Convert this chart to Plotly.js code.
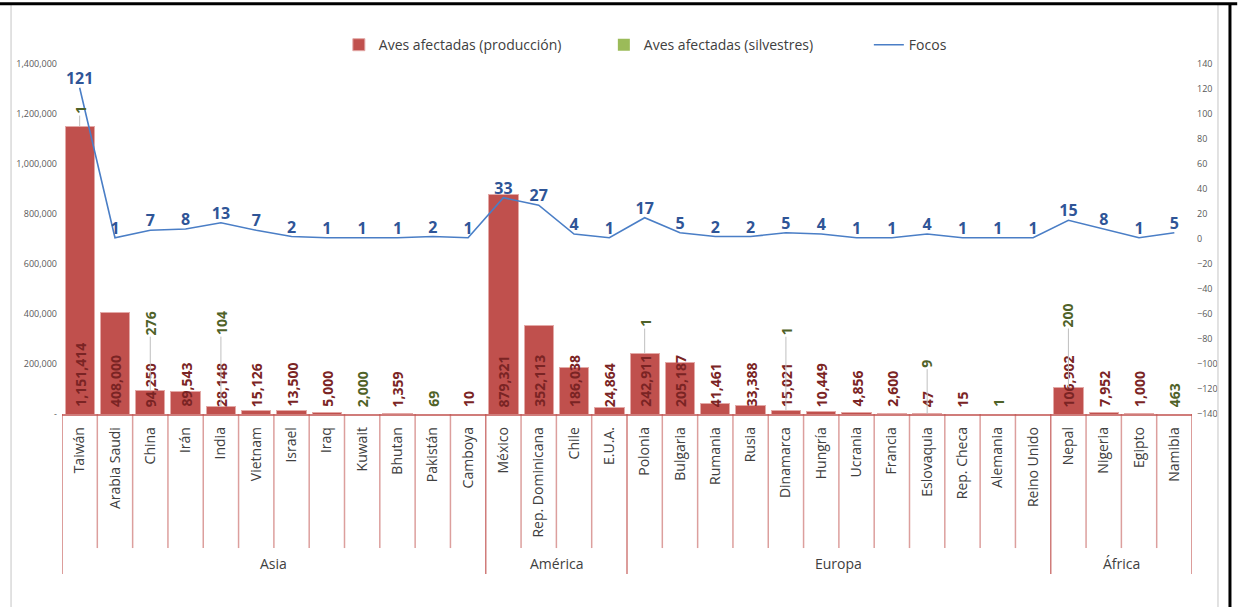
<!DOCTYPE html>
<html>
<head>
<meta charset="utf-8">
<script src="https://cdn.plot.ly/plotly-3.0.1.min.js"></script>
<style>html,body{margin:0;padding:0;background:#fff;}#chart{width:1238px;height:607px;}</style>
</head>
<body>
<div id="chart"></div>
<script>
// ---- data ----
const categories = ['Taiwán','Arabia Saudi','China','Irán','India','Vietnam','Israel','Iraq','Kuwait','Bhutan','Pakistán','Camboya',
  'México','Rep. Dominicana','Chile','E.U.A.',
  'Polonia','Bulgaria','Rumania','Rusia','Dinamarca','Hungría','Ucrania','Francia','Eslovaquia','Rep. Checa','Alemania','Reino Unido',
  'Nepal','Nigeria','Egipto','Namibia'];
const groups = ['Asia','América','Europa','África'];
const groupSizes = [12, 4, 12, 4];
const produccion = [1151414, 408000, 94250, 89543, 28148, 15126, 13500, 5000, 0, 1359, 0, 10,
  879321, 352113, 186038, 24864,
  242911, 205187, 41461, 33388, 15021, 10449, 4856, 2600, 47, 15, 0, 0,
  106902, 7952, 1000, 0];
const silvestres = [1, 0, 276, 0, 104, 0, 0, 0, 2000, 0, 69, 0,
  0, 0, 0, 0,
  1, 0, 0, 0, 1, 0, 0, 0, 9, 0, 1, 0,
  200, 0, 0, 463];
const focos = [121, 1, 7, 8, 13, 7, 2, 1, 1, 1, 2, 1,
  33, 27, 4, 1,
  17, 5, 2, 2, 5, 4, 1, 1, 4, 1, 1, 1,
  15, 8, 1, 5];
const leftTicks = [0, 200000, 400000, 600000, 800000, 1000000, 1200000, 1400000];
const rightTicks = [-140,-120,-100,-80,-60,-40,-20,0,20,40,60,80,100,120,140];

// ---- styles ----
const FONT = 'Open Sans, Lato, sans-serif';
const RED = '#C0504D', GREEN = '#9BBB59', BLUE = '#4A7EC6';
const RED_TXT = '#7A2424', GREEN_TXT = '#4F6228', BLUE_TXT = '#2F5597';
const fmt = v => v.toLocaleString('en-US');

const traces = [
  {type:'bar', name:'Aves afectadas (producción)', x:categories, y:produccion,
   marker:{color:RED, line:{color:'#E3A9A7', width:1}}, hoverinfo:'skip'},
  {type:'bar', name:'Aves afectadas (silvestres)', x:categories, y:silvestres,
   marker:{color:GREEN, line:{width:0}}, hoverinfo:'skip'},
  {type:'scatter', mode:'lines+text', name:'Focos', x:categories, y:focos, yaxis:'y2',
   line:{color:BLUE, width:1.6}, text:focos.map(String), textposition:'top center',
   textfont:{family:FONT, size:16, color:BLUE_TXT, weight:'bold'}, cliponaxis:false, hoverinfo:'skip'}
];

// ---- labels ----
const annotations = [];
const pxPerUnit = 350 / 1400000;
const LBL = 14;
const textLen = s => s.length * LBL * 0.58;
categories.forEach((c, i) => {
  const r = produccion[i], g = silvestres[i];
  if (r > 0) {
    annotations.push({x:c, y:0, xref:'x', yref:'y', text:fmt(r), textangle:-90, showarrow:false,
      yanchor:'bottom', yshift:5, font:{family:FONT, size:LBL, color:RED_TXT, weight:'bold'}});
  }
  if (g > 0) {
    if (r > 0) {
      const barTop = (r + g) * pxPerUnit;
      const lblTop = 6 + textLen(fmt(r));
      const anchor = Math.max(barTop, lblTop);
      const gap = barTop >= lblTop ? 12 : 24;
      const center = anchor + gap + textLen(fmt(g)) / 2;
      annotations.push({x:c, y:r + g, xref:'x', yref:'y', text:fmt(g), textangle:-90,
        showarrow:true, arrowhead:0, arrowwidth:1, arrowcolor:'#BFBFBF', ax:0, ay:-(center - barTop),
        standoff:0, font:{family:FONT, size:LBL, color:GREEN_TXT, weight:'bold'}});
    } else {
      annotations.push({x:c, y:0, xref:'x', yref:'y', text:fmt(g), textangle:-90, showarrow:false,
        yanchor:'bottom', yshift:5, font:{family:FONT, size:LBL, color:GREEN_TXT, weight:'bold'}});
    }
  }
});

// group labels and dividers
const shapes = [];
let start = 0;
const divColor = 'rgba(192,80,77,0.55)';
groups.forEach((g, k) => {
  const end = start + groupSizes[k];
  annotations.push({x:(start + end - 1) / 2, y:-0.426, xref:'x', yref:'paper', text:g, showarrow:false,
    yanchor:'middle', font:{family:FONT, size:14, color:'#404040'}});
  shapes.push({type:'line', xref:'x', yref:'paper', x0:start - 0.5, x1:start - 0.5, y0:0, y1:-0.457,
    line:{color:'rgba(192,80,77,0.75)', width:1.5}});
  for (let j = start + 1; j < end; j++) {
    shapes.push({type:'line', xref:'x', yref:'paper', x0:j - 0.5, x1:j - 0.5, y0:0, y1:-0.383,
      line:{color:divColor, width:1.5}});
  }
  start = end;
});
shapes.push({type:'line', xref:'x', yref:'paper', x0:start - 0.5, x1:start - 0.5, y0:0, y1:-0.457,
  line:{color:'rgba(192,80,77,0.75)', width:1.5}});

// chart frame
shapes.push({type:'line', xref:'paper', yref:'paper', x0:-0.0451, x1:-0.0451, y0:1.17, y1:-0.56, line:{color:'#CFCFCF', width:1.2}});
shapes.push({type:'line', xref:'paper', yref:'paper', x0:1.023, x1:1.023, y0:1.17, y1:-0.56, line:{color:'#CFCFCF', width:1.2}});
shapes.push({type:'line', xref:'paper', yref:'paper', x0:-0.06, x1:1.04, y0:1.172, y1:1.172, line:{color:'#000', width:3}});
shapes.push({type:'line', xref:'paper', yref:'paper', x0:1.0336, x1:1.0336, y0:1.172, y1:-0.56, line:{color:'#000', width:3}});

const layout = {
  width:1238, height:607,
  margin:{l:62, r:46, t:64, b:193},
  paper_bgcolor:'#fff', plot_bgcolor:'#fff',
  font:{family:FONT, color:'#404040'},
  barmode:'stack', bargap:0.17,
  showlegend:true,
  legend:{orientation:'h', x:0.245, xanchor:'left', y:1.054, yanchor:'middle',
    font:{family:FONT, size:14, color:'#404040'}, entrywidth:220, itemwidth:30, traceorder:'normal'},
  xaxis:{type:'category', range:[-0.5, categories.length - 0.5], autorange:false, tickangle:-90,
    showgrid:false, zeroline:false, showline:true,
    linecolor:'rgba(192,80,77,0.75)', linewidth:1.5, ticks:'', ticklabelstandoff:6,
    tickfont:{family:FONT, size:14, color:'#404040'}, fixedrange:true},
  yaxis:{range:[0, 1400000], tickvals:leftTicks, ticktext:leftTicks.map(v => v === 0 ? '-' : fmt(v)),
    showgrid:false, zeroline:false, showline:false, ticks:'', ticklabelstandoff:4,
    tickfont:{family:FONT, size:9, color:'#595959'}},
  yaxis2:{range:[-140, 140], tickvals:rightTicks, overlaying:'y', side:'right',
    showgrid:false, zeroline:false, showline:false, ticks:'', ticklabelstandoff:4,
    tickfont:{family:FONT, size:9, color:'#595959'}},
  annotations:annotations,
  shapes:shapes
};

Plotly.newPlot('chart', traces, layout, {displayModeBar:false, staticPlot:true});
</script>
</body>
</html>
